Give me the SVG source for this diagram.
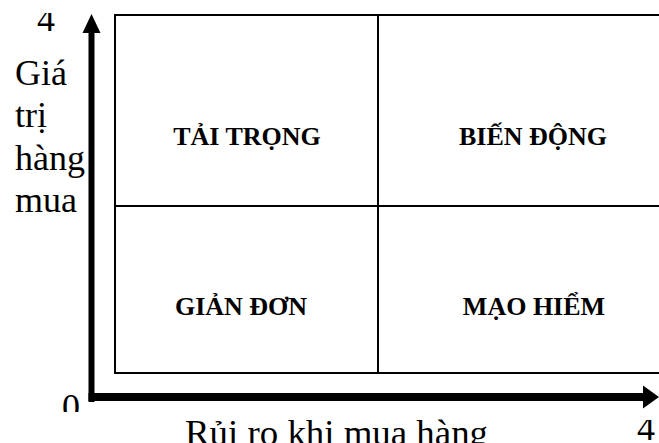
<svg xmlns="http://www.w3.org/2000/svg" width="659" height="443" viewBox="0 0 659 443">
<style>
.ax{font-family:"Liberation Serif","Times New Roman",serif;font-size:36px;fill:#000}
.lb{font-family:"Liberation Serif","Times New Roman",serif;font-size:26px;font-weight:bold;fill:#000;text-anchor:middle}
.ln{stroke:#000;stroke-width:2;fill:none}
</style>
<defs>
<clipPath id="c4"><rect x="0" y="13" width="100" height="40"/></clipPath>
<clipPath id="c0"><rect x="40" y="380" width="50" height="32"/></clipPath>
<clipPath id="c4b"><rect x="600" y="420" width="59" height="23"/></clipPath>
</defs>
<rect width="659" height="443" fill="#fff"/>
<g id="grid">
<rect x="115" y="15" width="600" height="358" class="ln"/>
<line x1="378" y1="15" x2="378" y2="373" class="ln"/>
<line x1="115" y1="206" x2="715" y2="206" class="ln"/>
</g>
<g id="connectors">
<path d="M91.5 402 V31" stroke="#000" stroke-width="6" fill="none"/>
<polygon points="91.5,14 100.5,33 82.5,33" fill="#000"/>
<path d="M88.5 397 H645" stroke="#000" stroke-width="8" fill="none"/>
<polygon points="659,397 643,385.5 643,408.5" fill="#000"/>
</g>
<g id="cell-tai-trong"><text x="247" y="145" class="lb">TẢI TRỌNG</text></g>
<g id="cell-bien-dong"><text x="533" y="145" class="lb">BIẾN ĐỘNG</text></g>
<g id="cell-gian-don"><text x="241" y="315" class="lb">GIẢN ĐƠN</text></g>
<g id="cell-mao-hiem"><text x="534" y="315" class="lb">MẠO HIỂM</text></g>
<g id="y-label">
<text class="ax" x="15" y="85">Giá</text>
<text class="ax" x="15" y="127">trị</text>
<text class="ax" x="15" y="170">hàng</text>
<text class="ax" x="15" y="212">mua</text>
</g>
<g id="x-label"><text class="ax" x="185" y="445" textLength="303" lengthAdjust="spacingAndGlyphs">Rủi ro khi mua hàng</text></g>
<g id="ticks">
<text class="ax" x="37" y="31" clip-path="url(#c4)">4</text>
<text class="ax" x="62" y="419" clip-path="url(#c0)">0</text>
<text class="ax" x="637" y="440" clip-path="url(#c4b)">4</text>
</g>
</svg>
